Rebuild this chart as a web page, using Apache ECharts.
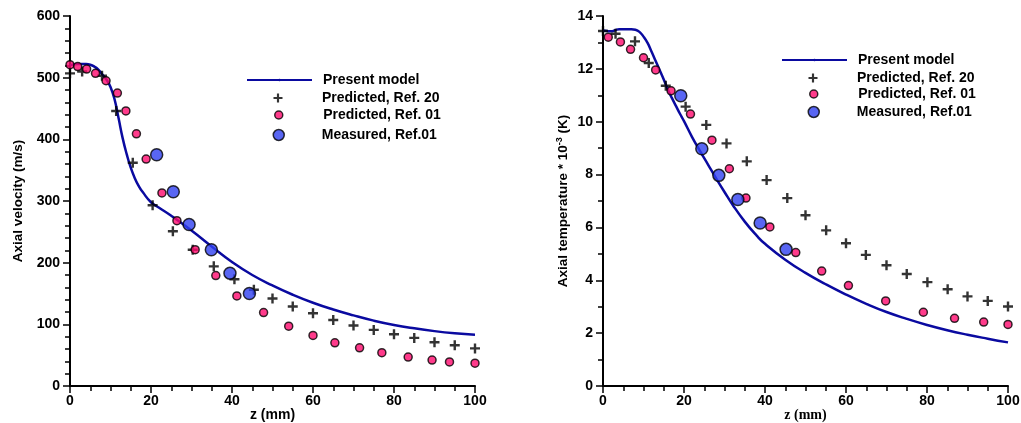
<!DOCTYPE html>
<html>
<head>
<meta charset="utf-8">
<script src="https://cdn.jsdelivr.net/npm/echarts@6/dist/echarts.min.js"></script>
<style>
html,body{margin:0;padding:0;background:#fff;}
#c{width:1021px;height:423px;}
</style>
</head>
<body>
<div id="c"></div>
<script>
// ---------- Data: left chart (axial velocity, m/s) ----------
var velModelZ   = [0, 2, 4, 5, 6, 7, 8, 9, 10, 11, 12, 13, 14, 15, 16, 17, 18, 20, 22, 25, 30, 35, 40, 45, 50, 55, 60, 65, 70, 75, 80, 85, 90, 95, 100];
var velModel    = [520, 522, 522, 521, 518, 513, 505, 497, 485, 465, 434, 402, 376, 354, 337, 324, 314, 298, 289, 276, 252, 226, 201, 180, 163, 148, 135, 124, 114.5, 106, 99, 93.5, 89, 85.5, 83];
var velRef20Z   = [0, 3, 7.9, 11.4, 15.5, 20.4, 25.4, 30.3, 35.5, 40.6, 45.4, 50, 55, 60, 65, 70, 75, 80, 85, 90, 95, 100];
var velRef20    = [507, 510, 503, 446, 362, 293, 251, 221, 194, 173, 156, 142, 129, 118, 107, 98, 91, 84, 78, 71, 66, 61];
var velRef01Z   = [0, 1.9, 4.1, 6.3, 8.9, 11.7, 13.8, 16.4, 18.8, 22.7, 26.4, 30.9, 36, 41.2, 47.8, 54, 60, 65.4, 71.5, 77, 83.5, 89.4, 93.7, 100];
var velRef01    = [521, 518, 514, 507, 495, 475, 446, 409, 368, 313, 268, 221, 179, 146, 119, 97, 82, 70, 62, 54, 47, 42, 39, 37];
var velMeasZ    = [21.4, 25.5, 29.4, 34.9, 39.5, 44.3];
var velMeas     = [375, 315, 262, 221, 183, 150];

// ---------- Data: right chart (axial temperature * 10^-3, K) ----------
var tmpModelZ   = [0, 1, 2, 3, 4, 6, 7, 8, 9, 10, 11, 12, 13, 14, 15, 16, 17, 18, 19, 20, 22, 24, 26, 28, 30, 32, 35, 38, 40, 45, 50, 55, 60, 65, 70, 75, 80, 85, 90, 95, 100];
var tmpModel    = [13.45, 13.43, 13.42, 13.46, 13.5, 13.5, 13.5, 13.48, 13.4, 13.22, 12.98, 12.65, 12.3, 11.95, 11.6, 11.22, 10.9, 10.6, 10.3, 10.02, 9.42, 8.88, 8.36, 7.84, 7.34, 6.86, 6.22, 5.68, 5.38, 4.78, 4.28, 3.85, 3.46, 3.11, 2.8, 2.54, 2.31, 2.11, 1.94, 1.79, 1.65];
var tmpRef20Z   = [0, 3.1, 7.9, 11.3, 15.5, 20.4, 25.5, 30.5, 35.5, 40.4, 45.5, 50, 55.1, 60, 64.9, 70, 75, 80.1, 85.1, 90, 95, 100];
var tmpRef20    = [13.43, 13.33, 13.04, 12.22, 11.36, 10.57, 9.88, 9.18, 8.5, 7.79, 7.11, 6.46, 5.89, 5.4, 4.96, 4.57, 4.24, 3.93, 3.66, 3.39, 3.22, 3.01];
var tmpRef01Z   = [1.3, 4.3, 6.8, 10, 13, 16.8, 21.6, 26.9, 31.2, 35.3, 41.2, 47.6, 54, 60.6, 69.8, 79.1, 86.8, 94, 100];
var tmpRef01    = [13.2, 13.02, 12.74, 12.42, 11.96, 11.17, 10.29, 9.3, 8.22, 7.11, 6.02, 5.05, 4.35, 3.8, 3.22, 2.79, 2.56, 2.42, 2.33];
var tmpMeasZ    = [19.2, 24.4, 28.6, 33.3, 38.8, 45.2];
var tmpMeas     = [10.98, 8.98, 7.97, 7.06, 6.17, 5.17];

// ---------- Axis ticks / labels ----------
var xTicks = {min: 0, max: 100, interval: 20};
var velTicks = {min: 0, max: 600, interval: 100};
var tmpTicks = {min: 0, max: 14, interval: 2};
var seriesNames = ['Present model', 'Predicted, Ref. 20', 'Predicted, Ref. 01', 'Measured, Ref.01'];

function pairs(xs, ys) { return xs.map(function (x, i) { return [x, ys[i]]; }); }

var PLUS = 'path://M-1.2,-5L1.2,-5L1.2,-1.2L5,-1.2L5,1.2L1.2,1.2L1.2,5L-1.2,5L-1.2,1.2L-5,1.2L-5,-1.2L-1.2,-1.2Z';
var LINE_COLOR = '#0a0aa0';
var PINK = '#ff0a6e';
var BLUE = '#3040f0';
var FONT = 'Liberation Sans, Arial, sans-serif';

function xAxisCfg(idx, nameFont) {
  return {
    gridIndex: idx, type: 'value', min: xTicks.min, max: xTicks.max, interval: xTicks.interval,
    name: 'z (mm)', nameLocation: 'middle', nameGap: 22, nameMoveOverlap: false,
    nameTextStyle: {fontFamily: nameFont, fontWeight: 'bold', fontSize: 14, color: '#000'},
    axisLine: {show: true, onZero: false, lineStyle: {color: '#000', width: 2}},
    axisTick: {show: true, inside: false, length: 7, lineStyle: {color: '#000', width: 1.5}},
    minorTick: {show: true, splitNumber: 4, length: 5, lineStyle: {color: '#000', width: 1.5}},
    splitLine: {show: false},
    axisLabel: {fontFamily: FONT, fontWeight: 'bold', fontSize: 14, color: '#000', margin: 8}
  };
}
function yAxisCfg(idx, t, name, gap, minorSplit) {
  return {
    gridIndex: idx, type: 'value', min: t.min, max: t.max, interval: t.interval,
    name: name, nameLocation: 'middle', nameGap: gap, nameRotate: 90, nameMoveOverlap: false,
    nameTextStyle: {fontFamily: FONT, fontWeight: 'bold', fontSize: 13.5, color: '#000',
      rich: {sup: {fontFamily: FONT, fontWeight: 'bold', fontSize: 9, color: '#000', verticalAlign: 'bottom', padding: [0, 0, 7, 0]}}},
    axisLine: {show: true, onZero: false, lineStyle: {color: '#000', width: 2}},
    axisTick: {show: true, inside: false, length: 7, lineStyle: {color: '#000', width: 1.5}},
    minorTick: {show: true, splitNumber: minorSplit, length: 5, lineStyle: {color: '#000', width: 1.5}},
    splitLine: {show: false},
    axisLabel: {fontFamily: FONT, fontWeight: 'bold', fontSize: 14, color: '#000', margin: 10}
  };
}

function makeSeries(idx, mz, m, r20z, r20, r01z, r01, msz, ms) {
  return [
    {name: seriesNames[0], type: 'line', xAxisIndex: idx, yAxisIndex: idx, data: pairs(mz, m),
      smooth: 0.5, showSymbol: false, symbol: 'none',
      lineStyle: {color: LINE_COLOR, width: 2.5}, itemStyle: {color: LINE_COLOR}, z: 2},
    {name: seriesNames[1], type: 'scatter', xAxisIndex: idx, yAxisIndex: idx, data: pairs(r20z, r20),
      symbol: PLUS, symbolSize: 10, itemStyle: {color: '#000'}, clip: false, z: 3},
    {name: seriesNames[2], type: 'scatter', xAxisIndex: idx, yAxisIndex: idx, data: pairs(r01z, r01),
      symbol: 'circle', symbolSize: 8, itemStyle: {color: PINK, borderColor: '#000', borderWidth: 1.5}, clip: false, z: 4},
    {name: seriesNames[3], type: 'scatter', xAxisIndex: idx, yAxisIndex: idx, data: pairs(msz, ms),
      symbol: 'circle', symbolSize: 12, itemStyle: {color: BLUE, borderColor: '#000', borderWidth: 1.5}, clip: false, z: 5}
  ];
}

// legend icon settings: left offset from line start, icon height, text left padding
var legendIcons = [
  {icon: 'inherit', h: 3, dx: 0, pad: 6},
  {icon: PLUS, h: 9, dx: 27.5, pad: 6.5, style: {color: '#000'}},
  {icon: 'circle', h: 8, dx: 28, pad: 7, style: {color: PINK, borderColor: '#000', borderWidth: 1.5}},
  {icon: 'circle', h: 11, dx: 26.5, pad: 5.5, style: {color: BLUE, borderColor: '#000', borderWidth: 1.5}}
];

function legendItem(k, left, centerY) {
  var li = legendIcons[k];
  var d = {name: seriesNames[k]};
  if (li.icon !== 'inherit') { d.icon = li.icon; d.itemStyle = li.style; }
  return {
    data: [d], left: left + li.dx, top: centerY - 8, orient: 'vertical', padding: 0,
    itemWidth: 65, itemHeight: li.h, selectedMode: false, symbolKeepAspect: true,
    textStyle: {fontFamily: FONT, fontWeight: 'bold', fontSize: 14, color: '#000', lineHeight: 16, padding: [0, 0, 0, li.pad]}
  };
}

var chart = echarts.init(document.getElementById('c'), null, {renderer: 'canvas'});
var option = {
  backgroundColor: '#fff',
  animation: false,
  grid: [
    {left: 70, top: 16, width: 405, height: 370, containLabel: false, outerBoundsMode: 'none'},
    {left: 603, top: 16, width: 405, height: 370, containLabel: false, outerBoundsMode: 'none'}
  ],
  xAxis: [xAxisCfg(0, FONT), xAxisCfg(1, 'Liberation Serif, Times New Roman, serif')],
  yAxis: [
    yAxisCfg(0, velTicks, 'Axial velocity (m/s)', 45, 5),
    yAxisCfg(1, tmpTicks, 'Axial temperature * 10{sup|-3} (K)', 32, 2)
  ],
  legend: [
    legendItem(0, 246, 80),
    legendItem(1, 246, 98),
    legendItem(2, 246, 115),
    legendItem(3, 246, 135),
    legendItem(0, 781, 60),
    legendItem(1, 781, 78),
    legendItem(2, 781, 94),
    legendItem(3, 781, 112)
  ],
  series: [].concat(
    makeSeries(0, velModelZ, velModel, velRef20Z, velRef20, velRef01Z, velRef01, velMeasZ, velMeas),
    makeSeries(1, tmpModelZ, tmpModel, tmpRef20Z, tmpRef20, tmpRef01Z, tmpRef01, tmpMeasZ, tmpMeas)
  )
};
chart.setOption(option);
</script>
</body>
</html>
